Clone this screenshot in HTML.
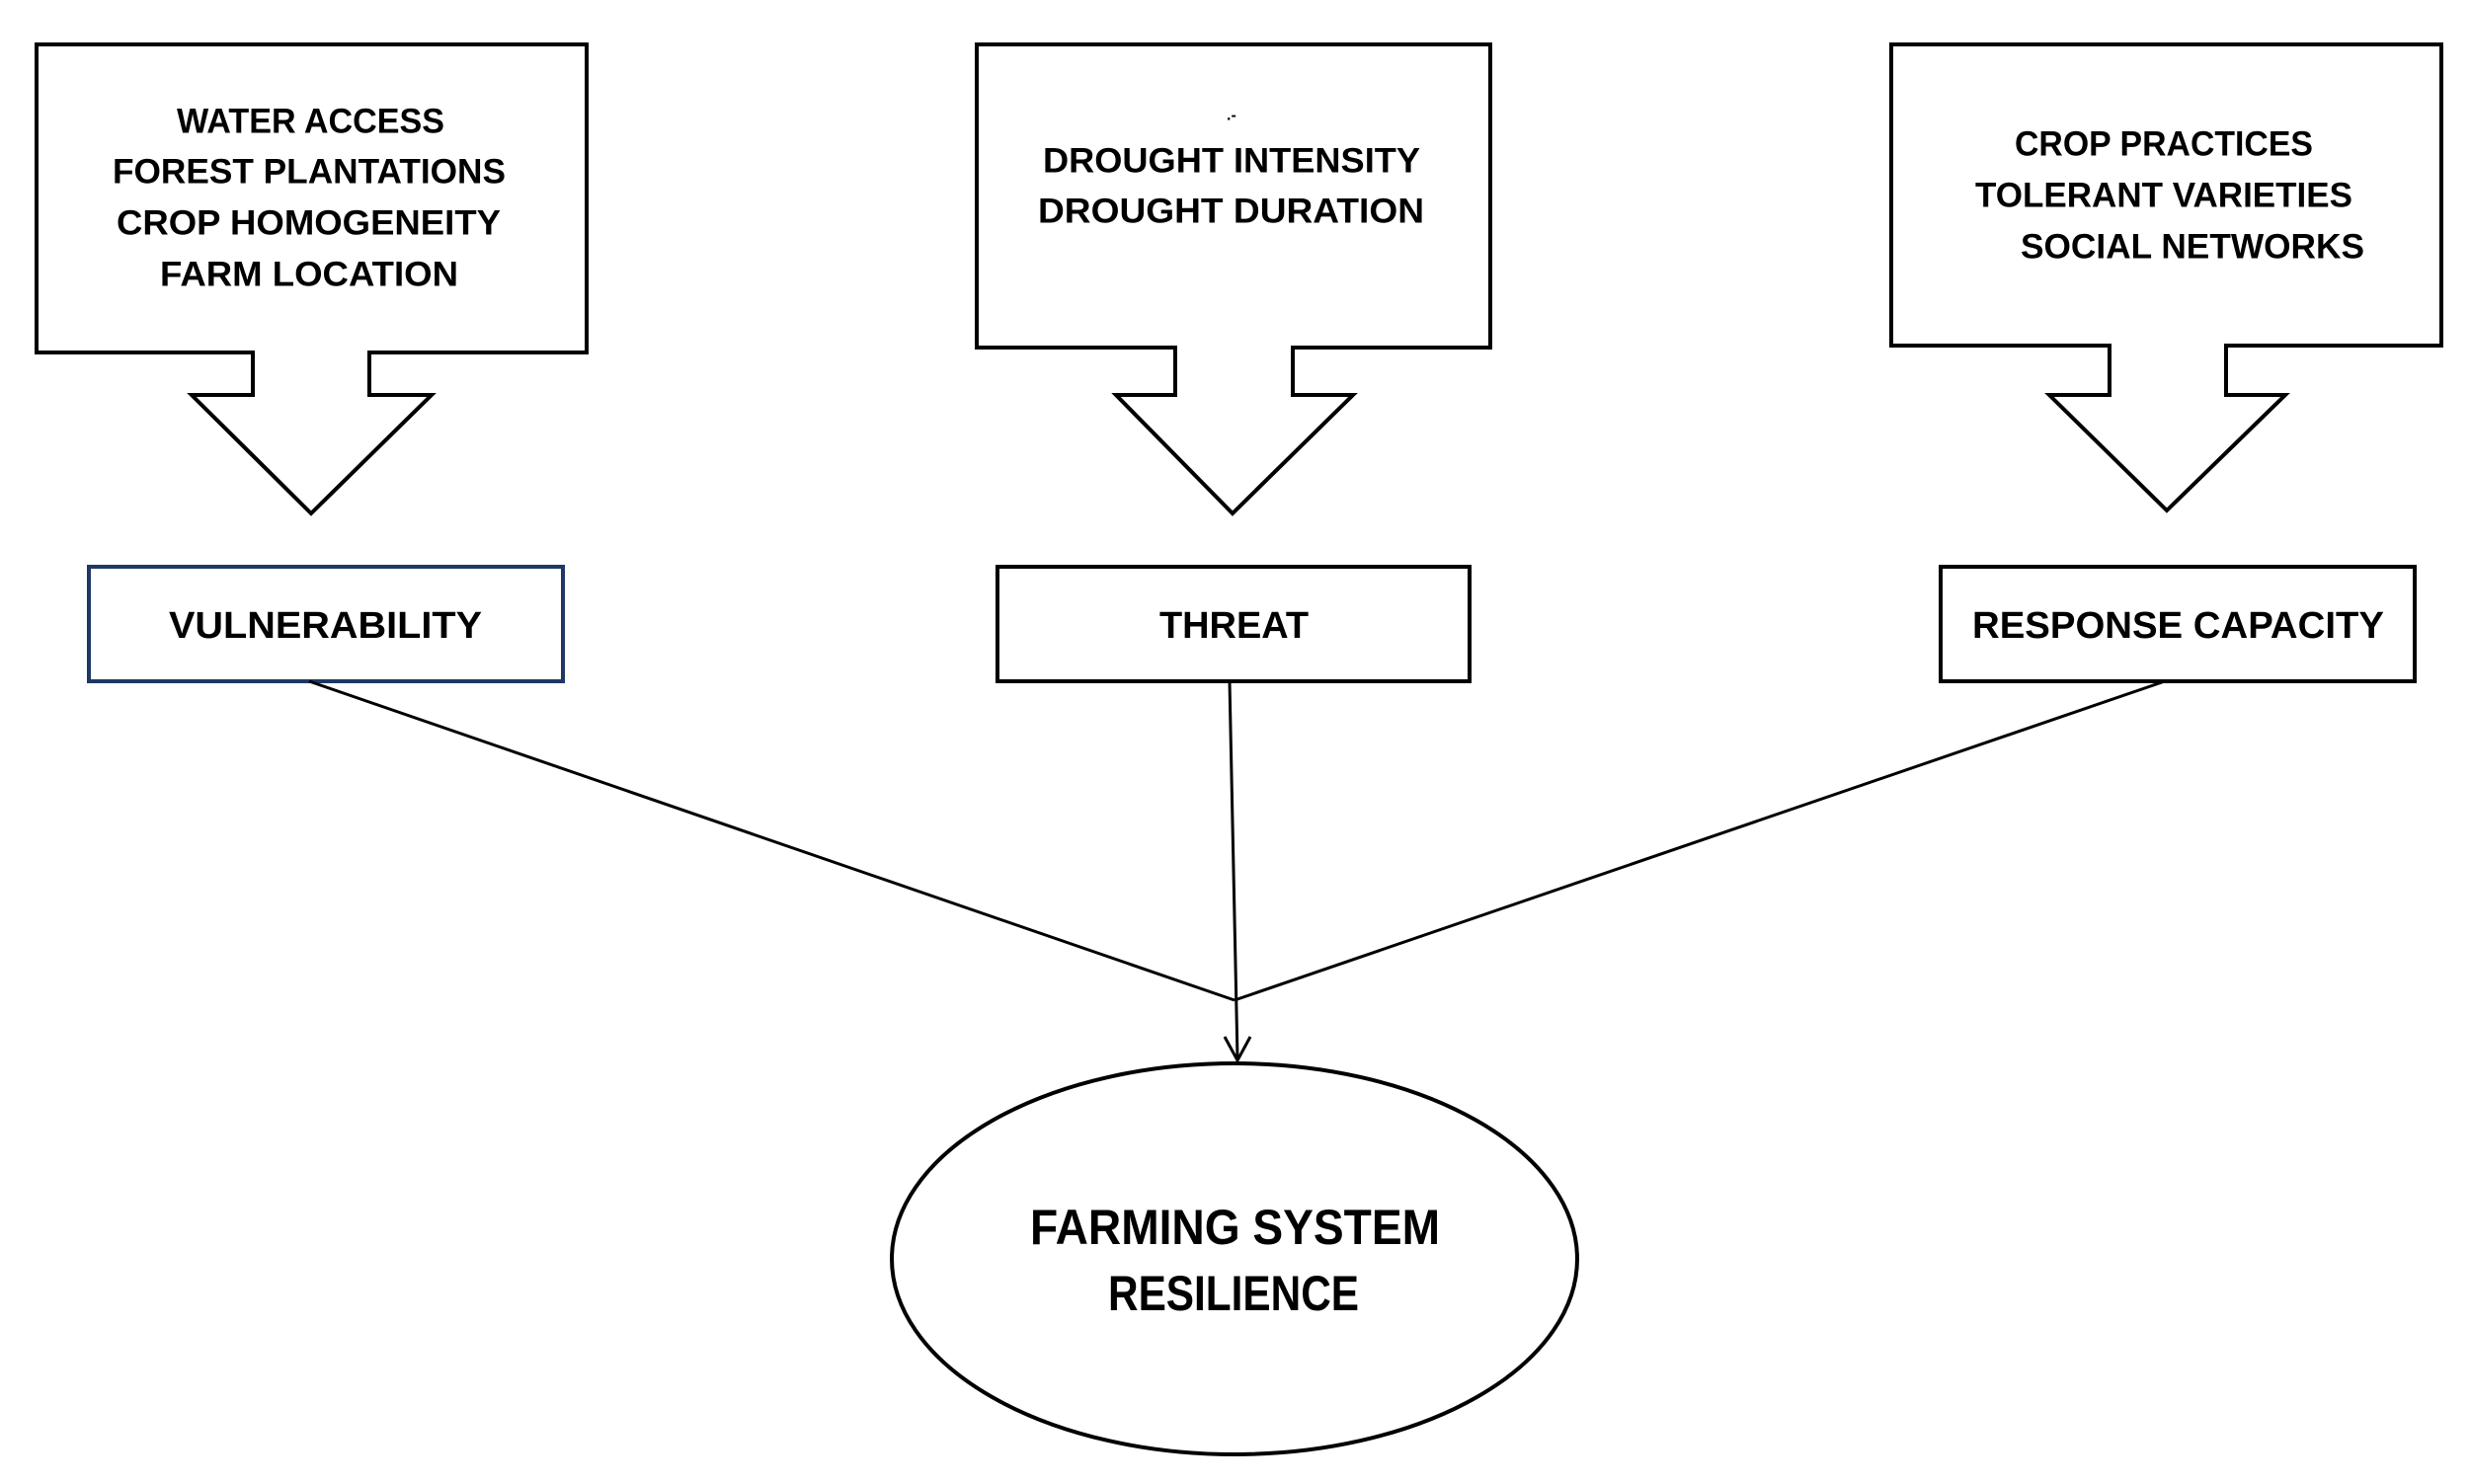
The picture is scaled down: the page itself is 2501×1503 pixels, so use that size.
<!DOCTYPE html>
<html><head><meta charset="utf-8"><style>html,body{margin:0;padding:0;background:#fff}svg{display:block}</style></head>
<body>
<svg width="2501" height="1503" viewBox="0 0 2501 1503" xmlns="http://www.w3.org/2000/svg" font-family="Liberation Sans, sans-serif" font-weight="bold">
<g fill="#fff" stroke="#000" stroke-width="4" stroke-linejoin="miter">
<path d="M37,45 H594 V357 H374 V400 H437 L315,520 L194,400 H256 V357 H37 Z"/>
<path d="M989,45 H1509 V352 H1309 V400 H1370 L1248,520 L1130,400 H1190 V352 H989 Z"/>
<path d="M1915,45 H2472 V350 H2254 V400 H2314 L2194,517 L2075,400 H2136 V350 H1915 Z"/>
<rect x="90" y="574" width="480" height="116" stroke="#1f3864"/>
<rect x="1010" y="574" width="478" height="116"/>
<rect x="1965" y="574" width="480" height="116"/>
<ellipse cx="1250" cy="1275" rx="347" ry="198"/>
</g>
<g stroke="#000" stroke-width="3" fill="none">
<line x1="313" y1="690" x2="1250" y2="1013"/>
<line x1="2192" y1="690" x2="1250" y2="1013"/>
<line x1="1245" y1="690" x2="1253" y2="1072"/>
<path d="M1240,1050 L1253,1074 L1266,1050"/>
</g>
<g font-size="35" fill="#000" dominant-baseline="central">
<text x="179" y="123" textLength="271" lengthAdjust="spacingAndGlyphs">WATER ACCESS</text>
<text x="114" y="174" textLength="398" lengthAdjust="spacingAndGlyphs">FOREST PLANTATIONS</text>
<text x="118" y="226" textLength="389" lengthAdjust="spacingAndGlyphs">CROP HOMOGENEITY</text>
<text x="162" y="278" textLength="302" lengthAdjust="spacingAndGlyphs">FARM LOCATION</text>
<text x="1242" y="117" font-size="16">.-</text>
<text x="1056" y="163" textLength="382" lengthAdjust="spacingAndGlyphs">DROUGHT INTENSITY</text>
<text x="1051" y="214" textLength="391" lengthAdjust="spacingAndGlyphs">DROUGHT DURATION</text>
<text x="2040" y="146" textLength="302" lengthAdjust="spacingAndGlyphs">CROP PRACTICES</text>
<text x="2000" y="198" textLength="382" lengthAdjust="spacingAndGlyphs">TOLERANT VARIETIES</text>
<text x="2046" y="250" textLength="348" lengthAdjust="spacingAndGlyphs">SOCIAL NETWORKS</text>
<text x="171" y="634" font-size="38" textLength="317" lengthAdjust="spacingAndGlyphs">VULNERABILITY</text>
<text x="1174" y="634" font-size="38" textLength="151" lengthAdjust="spacingAndGlyphs">THREAT</text>
<text x="1997" y="634" font-size="38" textLength="417" lengthAdjust="spacingAndGlyphs">RESPONSE CAPACITY</text>
<text x="1043" y="1243" font-size="50" textLength="415" lengthAdjust="spacingAndGlyphs">FARMING SYSTEM</text>
<text x="1122" y="1310" font-size="50" textLength="254" lengthAdjust="spacingAndGlyphs">RESILIENCE</text>
</g>
</svg>
</body></html>
